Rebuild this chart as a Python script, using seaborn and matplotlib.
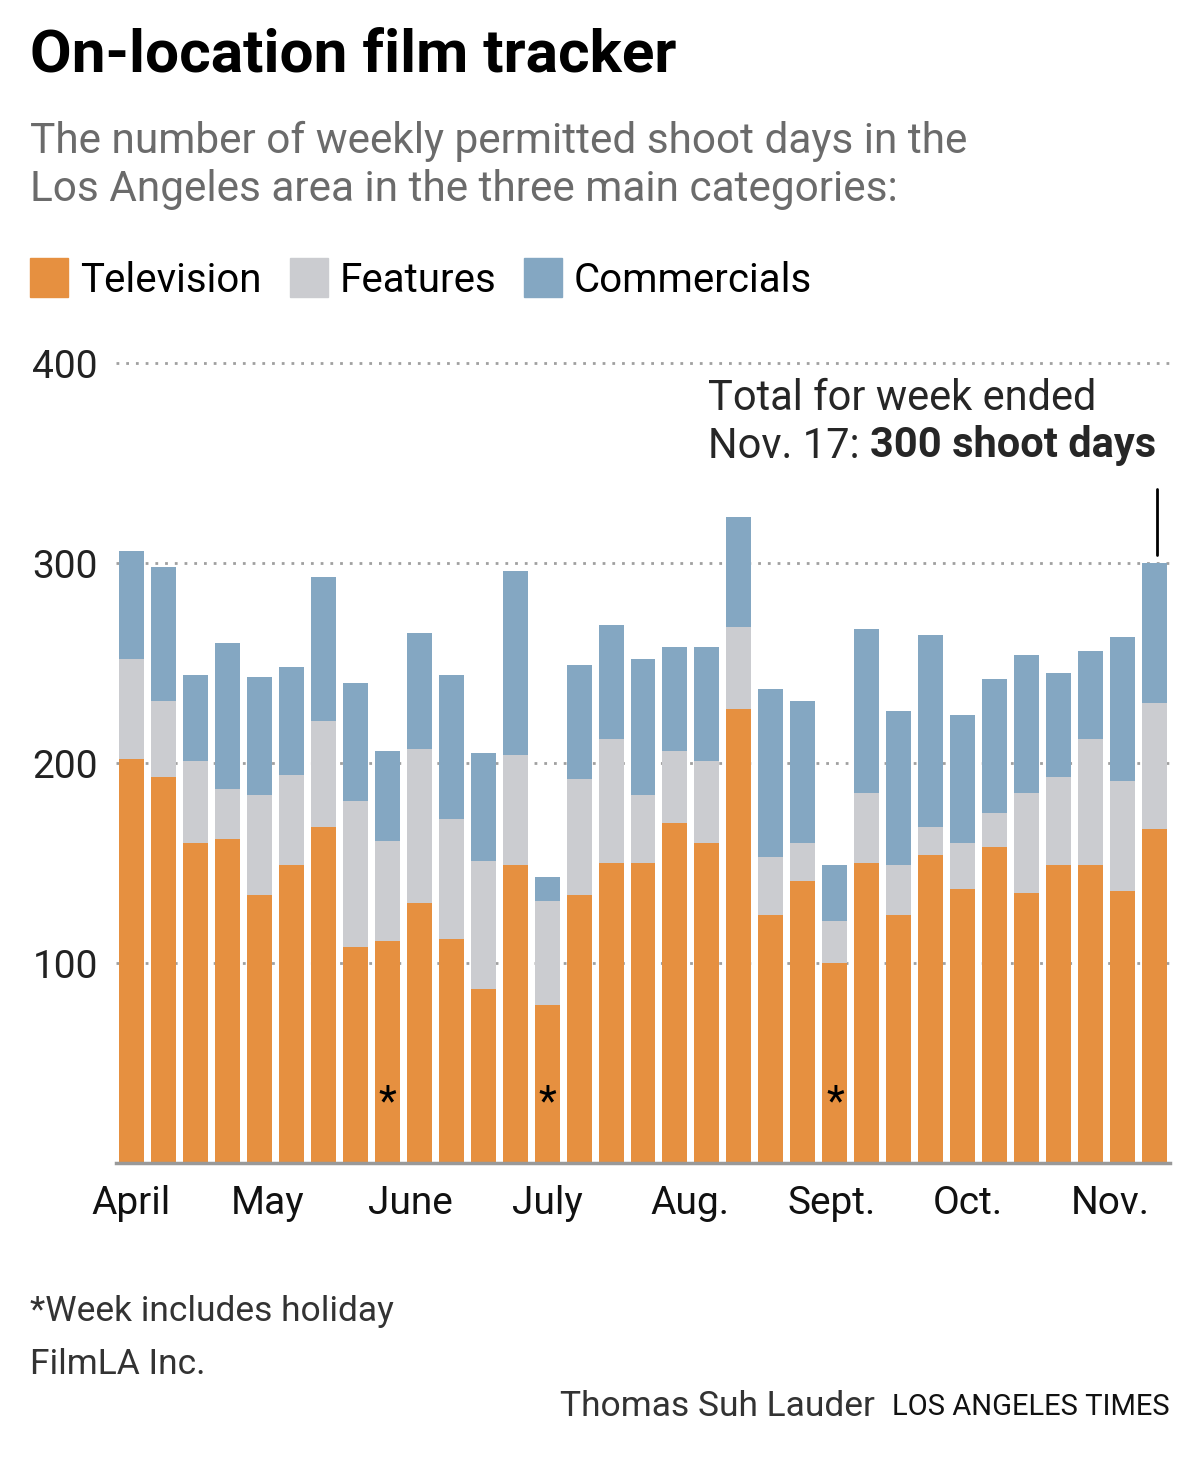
import numpy as np
import pandas as pd
import matplotlib.pyplot as plt
import seaborn as sns

# weekly permitted shoot days, April - Nov. 17
television = [202, 193, 160, 162, 134, 149, 168, 108, 111, 130, 112, 87, 149, 79, 134, 150, 150,
              170, 160, 227, 124, 141, 100, 150, 124, 154, 137, 158, 135, 149, 149, 136, 167]
features = [50, 38, 41, 25, 50, 45, 53, 73, 50, 77, 60, 64, 55, 52, 58, 62, 34,
            36, 41, 41, 29, 19, 21, 35, 25, 14, 23, 17, 50, 44, 63, 55, 63]
commercials = [54, 67, 43, 73, 59, 54, 72, 59, 45, 58, 72, 54, 92, 12, 57, 57, 68,
               52, 57, 55, 84, 71, 28, 82, 77, 96, 64, 67, 69, 52, 44, 72, 70]
holiday_weeks = [8, 13, 22]
months = ["April", "May", "June", "July", "Aug.", "Sept.", "Oct.", "Nov."]
month_pos = [0, 4.28, 8.72, 13.0, 17.47, 21.9, 26.16, 30.6]
yticks = [100, 200, 300, 400]

df = pd.DataFrame({"week": range(len(television)), "tv": television,
                   "feat": features, "comm": commercials})
df["tv_feat"] = df.tv + df.feat
df["total"] = df.tv_feat + df.comm

ORANGE = "#E69040"
GRAY = "#CBCCD0"
BLUE = "#84A7C2"

sns.set_style("white")
plt.rcParams["font.family"] = ["Roboto", "DejaVu Sans"]

W, H = 1200, 1463
fig = plt.figure(figsize=(W / 100, H / 100), dpi=100)


def fy(y):
    return 1 - y / H


ax = fig.add_axes([116 / W, fy(1163), (1170 - 116) / W, 820 / H])
bw = 25 / 32
sns.barplot(data=df, x="week", y="total", color=BLUE, saturation=1, width=bw, linewidth=0, ax=ax)
sns.barplot(data=df, x="week", y="tv_feat", color=GRAY, saturation=1, width=bw, linewidth=0, ax=ax)
sns.barplot(data=df, x="week", y="tv", color=ORANGE, saturation=1, width=bw, linewidth=0, ax=ax)

for w in holiday_weeks:
    ax.text(w, 30, "*", ha="center", va="center", fontsize=30, color="black")

ax.set_xlim(-0.47, 32.47)
ax.set_ylim(0, 410)
for y in yticks:
    ax.axhline(y, color="#a0a0a0", lw=2, ls=(0, (1, 2.5)), zorder=0)
ax.set_yticks(yticks)
ax.set_yticklabels([str(v) for v in yticks], fontsize=28, color="#222222")
ax.set_xticks(month_pos)
ax.set_xticklabels(months, fontsize=28, color="#111111")
ax.tick_params(axis="y", length=0, pad=13)
ax.tick_params(axis="x", length=0, pad=16)
ax.set_xlabel("")
ax.set_ylabel("")
for s in ["top", "right", "left"]:
    ax.spines[s].set_visible(False)
ax.spines["bottom"].set_color("#999999")
ax.spines["bottom"].set_linewidth(2.5)

# annotation for last week
last = len(television) - 1
ax.plot([last + 0.06, last + 0.06], [304, 337], color="black", lw=2)
fig.text(708 / W, fy(398), "Total for week ended", fontsize=30, va="center", ha="left")
t = fig.text(708 / W, fy(446), "Nov. 17: ", fontsize=30, va="center", ha="left")
fig.canvas.draw()
bb = t.get_window_extent()
fig.text(bb.x1 / W, fy(446), "300 shoot days", fontsize=30, va="center", ha="left",
         fontweight="bold")

# titles
fig.text(30 / W, fy(55), "On-location film tracker", fontsize=43.5, fontweight="bold",
         color="black", va="center", ha="left")
fig.text(30 / W, fy(141), "The number of weekly permitted shoot days in the",
         fontsize=30.5, color="#6b6b6b", va="center", ha="left")
fig.text(30 / W, fy(189), "Los Angeles area in the three main categories:",
         fontsize=30.5, color="#6b6b6b", va="center", ha="left")

# legend
for x0, lab, col in [(30, "Television", ORANGE), (290, "Features", GRAY), (524, "Commercials", BLUE)]:
    fig.patches.append(plt.Rectangle((x0 / W, fy(297)), 38 / W, 39 / H, color=col,
                                     transform=fig.transFigure, figure=fig))
    fig.text((x0 + 50) / W, fy(280), lab, fontsize=29, color="black", va="center", ha="left")

# footer
fig.text(30 / W, fy(1311), "*Week includes holiday", fontsize=25.5, color="#333333", va="center")
fig.text(30 / W, fy(1365), "FilmLA Inc.", fontsize=25.5, color="#333333", va="center")
fig.text(1170 / W, fy(1407), "LOS ANGELES TIMES", fontsize=21, color="#111111",
         va="center", ha="right")
fig.text(875 / W, fy(1406), "Thomas Suh Lauder", fontsize=25.5, color="#333333",
         va="center", ha="right")

fig.savefig("out.png", dpi=100)
